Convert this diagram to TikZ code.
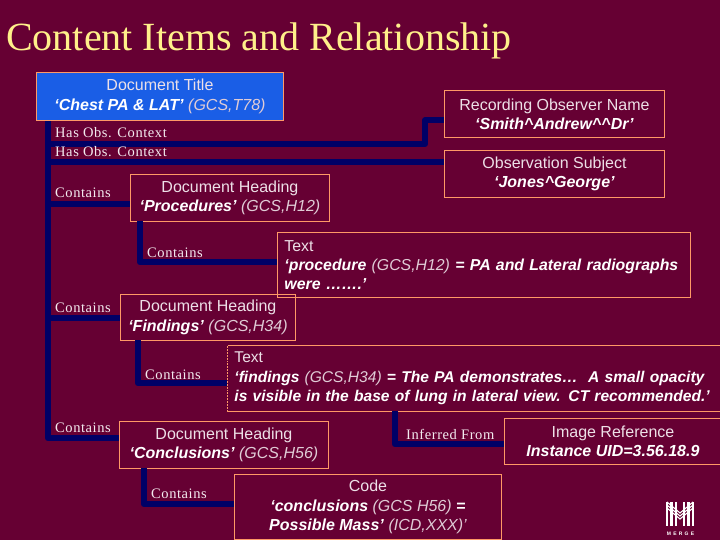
\documentclass[tikz,border=0pt]{standalone}
\usepackage{fontspec}
\setmainfont{Liberation Serif}
\setsansfont{Liberation Sans}
\definecolor{slidebg}{HTML}{660033}
\definecolor{navyline}{HTML}{000066}
\definecolor{boxedge}{HTML}{FF9966}
\definecolor{titleblue}{HTML}{1A5EE6}
\definecolor{titlecream}{HTML}{FFF08A}
\newcommand{\hd}[1]{{\color{white!88!slidebg}#1}}
\newcommand{\vl}[1]{\textbf{\textit{#1}}}
\newcommand{\cd}[1]{\textit{\color{white!80!slidebg}#1}}
\tikzset{
    itembox/.style={draw=boxedge, line width=0.9pt, anchor=north west, inner sep=0pt, text=white,
        font=\sffamily\fontsize{16}{19.2}\selectfont, align=center},
    relline/.style={draw=navyline, line width=6pt, line join=round},
    rellabel/.style={anchor=base west, inner sep=0pt, text=white!92!slidebg, font=\fontsize{14.5}{17}\selectfont\addfontfeatures{LetterSpace=4}},
}
\begin{document}
\begin{tikzpicture}[x=1pt, y=-1pt]
    \fill[slidebg] (0,0) rectangle (720,540);
    \useasboundingbox (0,0) rectangle (720,540);

    % slide title
    \node[anchor=base west, inner sep=0pt, text=titlecream, font=\fontsize{40}{42}\selectfont] (slidetitle) at (6,51) {Content Items and Relationship};

    % tree lines
    \coordinate (trunktop) at (48,120);
    \coordinate (obsfork) at (48,144);
    \coordinate (subjfork) at (48,162);
    \coordinate (procfork) at (48,204);
    \coordinate (findfork) at (48,318);
    \coordinate (obsjog) at (425,144);
    \coordinate (procdrop) at (140,221);
    \coordinate (finddrop) at (138,340);
    \coordinate (concdrop) at (144,468);
    \coordinate (inferdrop) at (395,411);

    % content items
    \node[itembox, fill=titleblue, minimum width=247pt, minimum height=48pt] (doctitle) at (36,72)
        {\hd{Document Title}\\\vl{‘Chest PA \& LAT’} \cd{(GCS,T78)}};
    \node[itembox, minimum width=220pt, minimum height=47pt] (observer) at (444,90)
        {\hd{Recording Observer Name}\\\vl{‘Smith\^{}Andrew\^{}\^{}Dr’}};
    \node[itembox, minimum width=220pt, minimum height=47pt] (subject) at (444,150)
        {\hd{Observation Subject}\\\vl{‘Jones\^{}George’}};
    \node[itembox, minimum width=199pt, minimum height=47pt] (procedures) at (130,174)
        {\hd{Document Heading}\\\vl{‘Procedures’} \cd{(GCS,H12)}};
    \node[itembox, minimum width=175pt, minimum height=46pt] (findings) at (120,294)
        {\hd{Document Heading}\\\vl{‘Findings’} \cd{(GCS,H34)}};
    \node[itembox, minimum width=209pt, minimum height=47pt] (conclusions) at (119,421)
        {\hd{Document Heading}\\\vl{‘Conclusions’} \cd{(GCS,H56)}};
    \node[itembox, minimum width=217pt, minimum height=46pt] (imageref) at (504,418)
        {\hd{Image Reference}\\\vl{Instance UID=3.56.18.9}};
    \node[itembox, minimum width=413pt, minimum height=65pt, align=left, text width=399pt, inner xsep=7pt,
        font=\sffamily\fontsize{15.85}{19.2}\selectfont] (proctext) at (277,232)
        {\hd{Text}\\\vl{‘procedure} \cd{(GCS,H12)} \vl{= PA and Lateral radiographs}\\\vl{were …….’}};
    \node[itembox, minimum width=500pt, minimum height=66pt, align=left, text width=486pt, inner xsep=7pt,
        font=\sffamily\fontsize{15.6}{19.4}\selectfont] (findtext) at (227,345)
        {\hd{Text}\\\vl{‘findings} \cd{(GCS,H34)} \vl{= The PA demonstrates…\ \ A small opacity}\\\vl{is visible in the base of lung in lateral view. CT recommended.’}};
    \node[itembox, minimum width=267pt, minimum height=65pt] (codeitem) at (234,474)
        {\hd{Code}\\\vl{‘conclusions} \cd{(GCS H56)} \vl{=}\\\vl{Possible Mass’} \cd{(ICD,XXX)’}};
    \draw[slidebg, line width=0.9pt, dotted] (findtext.north west) -- (findtext.south west);

    \draw[relline] (doctitle.south -| trunktop) |- ([yshift=6.5pt]conclusions.west);
    \draw[relline] (obsfork) -| (obsjog) |- ([yshift=-6.5pt]observer.west);
    \draw[relline] (subjfork) -- (subjfork -| subject.west);
    \draw[relline] (procfork) -- (procfork -| procedures.west);
    \draw[relline] (findfork) -- (findfork -| findings.west);
    \draw[relline] (procdrop) |- ([yshift=2.5pt]proctext.west);
    \draw[relline] (finddrop) |- ([yshift=-5pt]findtext.west);
    \draw[relline] (concdrop) |- ([yshift=2.5pt]codeitem.west);
    \draw[relline] (inferdrop) |- ([yshift=-3pt]imageref.west);

    % relationship labels
    \node[rellabel] (rela) at (55,138) {Has Obs. Context};
    \node[rellabel] (relb) at (55,157) {Has Obs. Context};
    \node[rellabel] (relc) at (55,198) {Contains};
    \node[rellabel] (reld) at (147,257) {Contains};
    \node[rellabel] (rele) at (55,312) {Contains};
    \node[rellabel] (relf) at (145,379) {Contains};
    \node[rellabel] (relg) at (55,432) {Contains};
    \node[rellabel] (relh) at (151,498) {Contains};
    \node[rellabel] (reli) at (406,439) {Inferred From};

    % logo
    \foreach \i in {667,671.5,676,684,688.5,693} {
        \draw[white, line width=2.2pt] (\i,502) -- (\i,526);
    }
    \foreach \j in {502,505,508} {
        \draw[white, line width=1.1pt] (667,\j) -- (680,\j+11) -- (693,\j);
    }
    \node[text=white, font=\sffamily\bfseries\fontsize{5}{6}\selectfont\addfontfeatures{LetterSpace=45}, inner sep=0pt] (logotext) at (680.5,534) {MERGE};
\end{tikzpicture}
\end{document}
